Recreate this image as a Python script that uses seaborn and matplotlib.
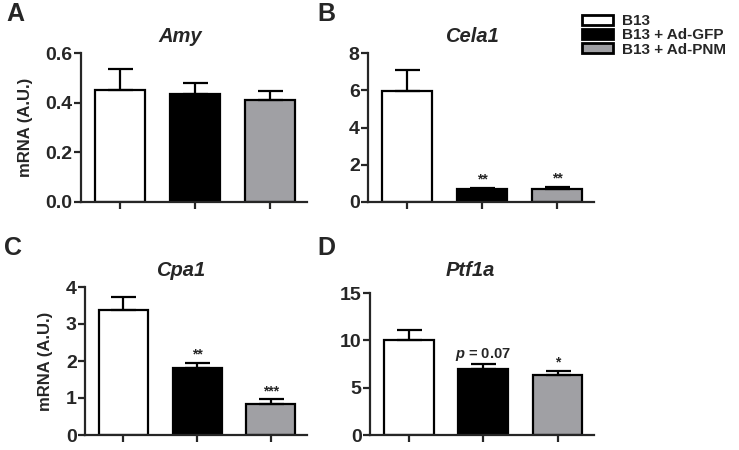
import numpy as np
import pandas as pd
import matplotlib
matplotlib.use("Agg")
import matplotlib.pyplot as plt
import seaborn as sns
from matplotlib.patches import Patch

# 数据
groups = ["B13", "B13 + Ad-GFP", "B13 + Ad-PNM"]
colors = ["#ffffff", "#000000", "#a0a0a4"]

amy_mean = [0.45, 0.435, 0.41]
amy_err = [0.085, 0.045, 0.035]
cela1_mean = [5.95, 0.70, 0.70]
cela1_err = [1.15, 0.06, 0.10]
cpa1_mean = [3.38, 1.82, 0.85]
cpa1_err = [0.35, 0.13, 0.11]
ptf1a_mean = [10.0, 7.0, 6.35]
ptf1a_err = [1.1, 0.5, 0.45]

amy_sig = ["", "", ""]
cela1_sig = ["", "**", "**"]
cpa1_sig = ["", "**", "***"]
ptf1a_sig = ["", "$\\it{p}$ = 0.07", "*"]

sns.set_style("ticks")
plt.rcParams["font.family"] = ["Liberation Sans", "DejaVu Sans"]
plt.rcParams["font.weight"] = "bold"
plt.rcParams["axes.linewidth"] = 1.6
plt.rcParams["mathtext.fontset"] = "custom"
plt.rcParams["mathtext.it"] = "Liberation Sans:italic:bold"
plt.rcParams["mathtext.rm"] = "Liberation Sans:bold"


def draw_panel(ax, means, errs, sigs, ylim, yticks, fmt, ylabel=None):
    df = pd.DataFrame({"group": groups, "value": means})
    sns.barplot(data=df, x="group", y="value", hue="group", palette=colors,
                order=groups, hue_order=groups, legend=False, ax=ax,
                width=0.667, edgecolor="black", linewidth=1.6)
    pos = np.arange(len(groups))
    ax.errorbar(pos, means, yerr=[np.zeros(len(errs)), errs], fmt="none",
                ecolor="black", elinewidth=1.6, capsize=9, capthick=1.6, zorder=1)
    for i, (m, e, s) in enumerate(zip(means, errs, sigs)):
        if s:
            fs = 10.5 if "p" in s else 10
            ax.text(i, m + e + ylim[1] * 0.01, s, ha="center", va="bottom",
                    fontsize=fs, fontweight="bold")
    ax.set_xlim(-0.52, 2.49)
    ax.set_ylim(*ylim)
    ax.set_yticks(yticks)
    ax.set_yticklabels([fmt.format(t) for t in yticks], fontsize=14, fontweight="bold")
    ax.tick_params(axis="x", labelbottom=False, length=5, width=1.6)
    ax.tick_params(axis="y", length=5, width=1.6, pad=1)
    ax.set_xlabel("")
    if ylabel:
        ax.set_ylabel(ylabel, fontsize=12, fontweight="bold", labelpad=9)
    else:
        ax.set_ylabel("")
    ax.spines[["top", "right"]].set_visible(False)


fig = plt.figure(figsize=(7.39, 4.5), dpi=100)
W, H = 739, 450


def px_axes(left, right, top, bottom):
    return fig.add_axes([left / W, 1 - bottom / H, (right - left) / W, (bottom - top) / H])


axA = px_axes(81, 307, 53, 202)
axB = px_axes(368, 594, 53, 202)
axC = px_axes(85, 307, 287, 435)
axD = px_axes(370, 594, 293, 435)

draw_panel(axA, amy_mean, amy_err, amy_sig, (0, 0.6), [0, 0.2, 0.4, 0.6], "{:.1f}", "mRNA (A.U.)")
draw_panel(axB, cela1_mean, cela1_err, cela1_sig, (0, 8), [0, 2, 4, 6, 8], "{:.0f}")
draw_panel(axC, cpa1_mean, cpa1_err, cpa1_sig, (0, 4), [0, 1, 2, 3, 4], "{:.0f}", "mRNA (A.U.)")
draw_panel(axD, ptf1a_mean, ptf1a_err, ptf1a_sig, (0, 15), [0, 5, 10, 15], "{:.0f}")

# 标题
for x, y, t in [(180, 37, "Amy"), (472, 37, "Cela1"), (181, 270, "Cpa1"), (470, 270, "Ptf1a")]:
    fig.text(x / W, 1 - y / H, t, ha="center", va="center", fontsize=14.5,
             fontweight="bold", fontstyle="italic")

# 面板字母
for x, y, t in [(15, 14, "A"), (326, 14, "B"), (13, 248, "C"), (326, 248, "D")]:
    fig.text(x / W, 1 - y / H, t, ha="center", va="center", fontsize=18, fontweight="bold")

# 图例
handles = [Patch(facecolor=c, edgecolor="black", linewidth=2) for c in colors]
fig.legend(handles, groups, loc="upper left", bbox_to_anchor=(576 / W, 1 - 8 / H),
           frameon=False, handlelength=2.0, handleheight=0.6,
           labelspacing=0.02, handletextpad=0.6, borderaxespad=0,
           prop={"weight": "bold", "size": 11})

fig.savefig("out.png", dpi=100)
